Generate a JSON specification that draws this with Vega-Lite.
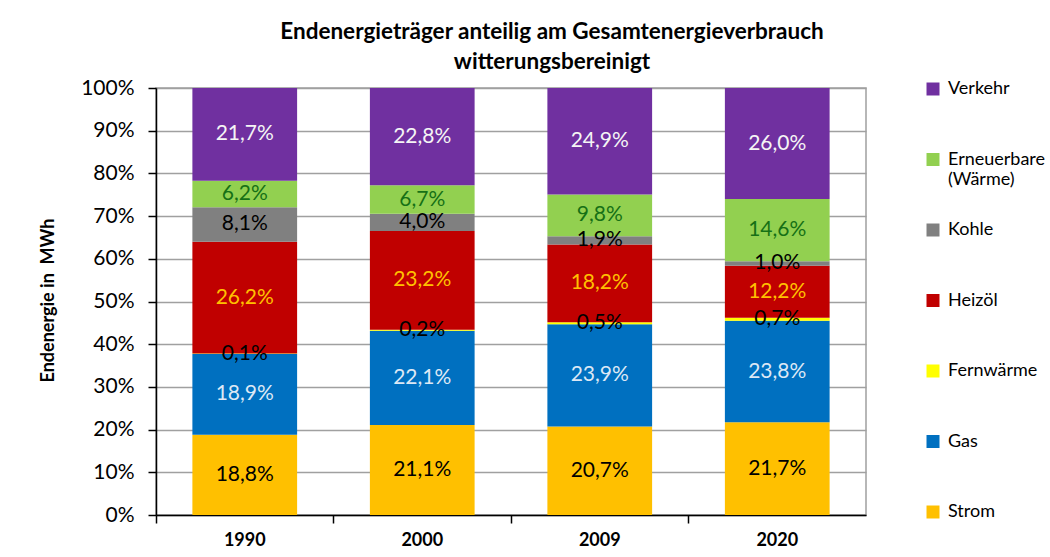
{
  "$schema": "https://vega.github.io/schema/vega-lite/v6.json",
  "width": 710,
  "height": 427,
  "autosize": {"type": "none"},
  "padding": {"left": 156, "top": 88, "right": 184, "bottom": 42},
  "background": "white",
  "title": {
    "text": ["Endenergieträger anteilig am Gesamtenergieverbrauch", "witterungsbereinigt"],
    "font": "Lato",
    "fontSize": 22.5,
    "fontWeight": "bold",
    "color": "black",
    "anchor": "middle",
    "frame": "group",
    "dx": 41,
    "lineHeight": 30,
    "offset": 4
  },
  "data": {
    "values": [
      {"year": "1990", "series": "Strom", "order": 1, "value": 18.8},
      {"year": "1990", "series": "Gas", "order": 2, "value": 18.9},
      {"year": "1990", "series": "Fernwärme", "order": 3, "value": 0.1},
      {"year": "1990", "series": "Heizöl", "order": 4, "value": 26.2},
      {"year": "1990", "series": "Kohle", "order": 5, "value": 8.1},
      {"year": "1990", "series": "Erneuerbare (Wärme)", "order": 6, "value": 6.2},
      {"year": "1990", "series": "Verkehr", "order": 7, "value": 21.7},
      {"year": "2000", "series": "Strom", "order": 1, "value": 21.1},
      {"year": "2000", "series": "Gas", "order": 2, "value": 22.1},
      {"year": "2000", "series": "Fernwärme", "order": 3, "value": 0.2},
      {"year": "2000", "series": "Heizöl", "order": 4, "value": 23.2},
      {"year": "2000", "series": "Kohle", "order": 5, "value": 4.0},
      {"year": "2000", "series": "Erneuerbare (Wärme)", "order": 6, "value": 6.7},
      {"year": "2000", "series": "Verkehr", "order": 7, "value": 22.8},
      {"year": "2009", "series": "Strom", "order": 1, "value": 20.7},
      {"year": "2009", "series": "Gas", "order": 2, "value": 23.9},
      {"year": "2009", "series": "Fernwärme", "order": 3, "value": 0.5},
      {"year": "2009", "series": "Heizöl", "order": 4, "value": 18.2},
      {"year": "2009", "series": "Kohle", "order": 5, "value": 1.9},
      {"year": "2009", "series": "Erneuerbare (Wärme)", "order": 6, "value": 9.8},
      {"year": "2009", "series": "Verkehr", "order": 7, "value": 24.9},
      {"year": "2020", "series": "Strom", "order": 1, "value": 21.7},
      {"year": "2020", "series": "Gas", "order": 2, "value": 23.8},
      {"year": "2020", "series": "Fernwärme", "order": 3, "value": 0.7},
      {"year": "2020", "series": "Heizöl", "order": 4, "value": 12.2},
      {"year": "2020", "series": "Kohle", "order": 5, "value": 1.0},
      {"year": "2020", "series": "Erneuerbare (Wärme)", "order": 6, "value": 14.6},
      {"year": "2020", "series": "Verkehr", "order": 7, "value": 26.0}
    ]
  },
  "transform": [
    {"stack": "value", "groupby": ["year"], "sort": [{"field": "order", "order": "ascending"}], "offset": "normalize", "as": ["y0", "y1"]},
    {"calculate": "(datum.y0 + datum.y1) / 2", "as": "ymid"},
    {"calculate": "replace(format(datum.value, '.1f'), '.', ',') + '%'", "as": "label"}
  ],
  "encoding": {
    "x": {
      "field": "year",
      "type": "nominal",
      "sort": ["1990", "2000", "2009", "2020"],
      "scale": {"paddingInner": 0.41, "paddingOuter": 0.205},
      "axis": {
        "title": null,
        "labelAngle": 0,
        "labelFont": "Lato",
        "labelFontSize": 18,
        "labelFontWeight": "bold",
        "labelColor": "black",
        "labelPadding": 8,
        "bandPosition": -0.347,
        "domainColor": "black",
        "domainWidth": 1.5,
        "tickColor": "black",
        "tickWidth": 1.5,
        "tickSize": 8,
        "grid": false
      }
    }
  },
  "layer": [
    {
      "mark": {"type": "bar"},
      "encoding": {
        "y": {
          "field": "y0",
          "type": "quantitative",
          "scale": {"domain": [0, 1]},
          "axis": {
            "title": "Endenergie in\u00a0 MWh",
            "titleFont": "Lato",
            "titleFontSize": 18,
            "titleFontWeight": "bold",
            "titleColor": "black",
            "titleX": -99,
            "titleY": 212,
            "format": ".0%",
            "values": [0, 0.1, 0.2, 0.3, 0.4, 0.5, 0.6, 0.7, 0.8, 0.9, 1],
            "labelOverlap": false,
            "labelFont": "Lato",
            "labelFontSize": 21,
            "labelColor": "black",
            "labelPadding": 14,
            "domainColor": "black",
            "domainWidth": 1.5,
            "tickColor": "black",
            "tickWidth": 1.5,
            "tickSize": 8,
            "grid": true,
            "gridColor": "#A0A0A0",
            "gridWidth": 1.5
          }
        },
        "y2": {"field": "y1"},
        "color": {
          "field": "series",
          "type": "nominal",
          "scale": {
            "domain": ["Verkehr", "Erneuerbare (Wärme)", "Kohle", "Heizöl", "Fernwärme", "Gas", "Strom"],
            "range": ["#7030A0", "#92D050", "#808080", "#C00000", "#FFFF00", "#0070C0", "#FFC000"]
          },
          "legend": {
            "title": null,
            "orient": "none",
            "legendX": 768,
            "legendY": -8,
            "padding": 0,
            "symbolType": "square",
            "symbolSize": 169,
            "symbolStrokeWidth": 0,
            "symbolOpacity": 1,
            "labelFont": "Lato",
            "labelFontSize": 18,
            "labelColor": "black",
            "labelOffset": 6,
            "labelLimit": 200,
            "rowPadding": 32.5,
            "gridAlign": "all",
            "labelExpr": "datum.label == 'Erneuerbare (Wärme)' ? ['Erneuerbare', '(Wärme)'] : datum.label"
          }
        },
        "order": {"field": "order", "type": "quantitative"}
      }
    },
    {
      "mark": {"type": "text", "font": "Lato", "fontSize": 21, "baseline": "middle", "align": "center"},
      "encoding": {
        "y": {
          "field": "ymid",
          "type": "quantitative",
          "axis": {
            "title": "Endenergie in\u00a0 MWh",
            "titleFont": "Lato",
            "titleFontSize": 18,
            "titleFontWeight": "bold",
            "titleColor": "black",
            "titleX": -99,
            "titleY": 212,
            "format": ".0%",
            "values": [0, 0.1, 0.2, 0.3, 0.4, 0.5, 0.6, 0.7, 0.8, 0.9, 1],
            "labelOverlap": false,
            "labelFont": "Lato",
            "labelFontSize": 21,
            "labelColor": "black",
            "labelPadding": 14,
            "domainColor": "black",
            "domainWidth": 1.5,
            "tickColor": "black",
            "tickWidth": 1.5,
            "tickSize": 8,
            "grid": true,
            "gridColor": "#A0A0A0",
            "gridWidth": 1.5
          }
        },
        "text": {"field": "label"},
        "color": {
          "field": "series",
          "type": "nominal",
          "scale": {
            "domain": ["Verkehr", "Erneuerbare (Wärme)", "Kohle", "Heizöl", "Fernwärme", "Gas", "Strom"],
            "range": ["#F5F5F5", "#167016", "#000000", "#FFC000", "#000000", "#DDE8F5", "#000000"]
          },
          "legend": null
        }
      }
    }
  ],
  "resolve": {"scale": {"color": "independent"}},
  "config": {
    "view": {"stroke": "#A0A0A0", "strokeWidth": 1.5},
    "axis": {"labelFont": "Lato"}
  }
}
